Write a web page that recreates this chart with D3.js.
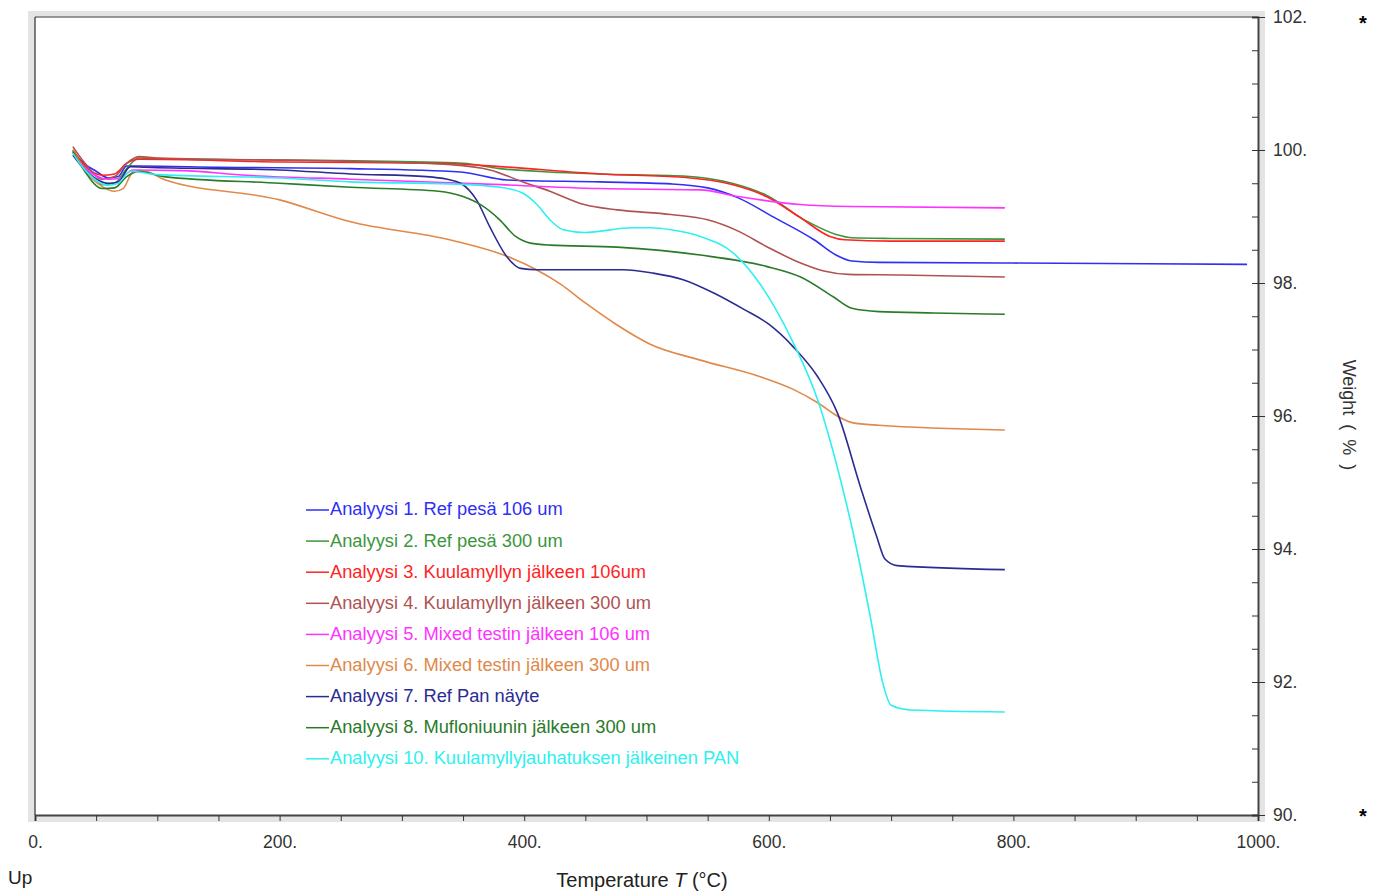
<!DOCTYPE html>
<html>
<head>
<meta charset="utf-8">
<script src="https://cdn.jsdelivr.net/npm/d3@7"></script>
<style>
  body { margin: 0; background: #fff; }
  text { font-family: "Liberation Sans", Arial, sans-serif; }
</style>
</head>
<body>
<svg id="chart" width="1379" height="893"></svg>
<script>
// TGA curves, [temperature °C, weight %]
const s1 = [[31,99.97],[40,99.8],[50,99.68],[60,99.58],[68,99.6],[75,99.76],[85,99.76],[150,99.74],[258,99.72],[348,99.67],[386,99.55],[462,99.52],[520,99.49],[550,99.43],[575,99.28],[604,98.99],[637,98.65],[655,98.42],[668,98.33],[690,98.31],[800,98.3],[991,98.28]]
const s2 = [[31,100.0],[40,99.75],[55,99.48],[65,99.5],[75,99.72],[85,99.88],[100,99.87],[250,99.84],[350,99.8],[380,99.72],[420,99.67],[462,99.64],[530,99.61],[570,99.5],[598,99.32],[631,98.93],[655,98.73],[668,98.68],[700,98.67],[793,98.66]]
const s3 = [[31,100.0],[40,99.78],[55,99.62],[65,99.64],[75,99.8],[85,99.86],[200,99.82],[330,99.8],[380,99.75],[462,99.64],[530,99.59],[570,99.48],[598,99.3],[626,98.98],[650,98.7],[662,98.65],[700,98.63],[793,98.63]]
const s4 = [[31,100.05],[40,99.82],[55,99.56],[65,99.6],[75,99.8],[85,99.9],[100,99.88],[258,99.83],[340,99.78],[372,99.7],[399,99.52],[421,99.38],[449,99.18],[476,99.1],[520,99.03],[550,98.95],[575,98.78],[598,98.55],[626,98.3],[645,98.18],[665,98.13],[708,98.12],[793,98.09]]
const s5 = [[31,99.95],[40,99.75],[60,99.56],[70,99.58],[80,99.7],[120,99.69],[173,99.62],[258,99.56],[364,99.49],[462,99.42],[544,99.4],[575,99.3],[626,99.18],[667,99.15],[793,99.13]]
const s6 = [[31,100.0],[40,99.72],[55,99.45],[65,99.38],[72,99.42],[80,99.66],[90,99.68],[105,99.56],[200,99.25],[258,98.92],[339,98.65],[389,98.38],[410,98.2],[430,97.98],[450,97.7],[475,97.38],[503,97.08],[544,96.84],[593,96.59],[620,96.4],[640,96.2],[656,96.0],[668,95.9],[690,95.86],[793,95.79]]
const s7 = [[31,99.92],[40,99.72],[60,99.5],[68,99.52],[78,99.75],[90,99.74],[200,99.7],[258,99.64],[320,99.6],[337,99.56],[348,99.5],[361,99.25],[372,98.84],[386,98.39],[397,98.22],[410,98.2],[481,98.2],[505,98.15],[530,98.05],[555,97.85],[580,97.6],[600,97.38],[620,97.04],[640,96.59],[656,96.05],[675,94.93],[688,94.2],[695,93.85],[705,93.75],[793,93.69]]
const s8 = [[31,99.98],[40,99.7],[55,99.42],[65,99.43],[75,99.6],[85,99.68],[105,99.6],[200,99.5],[258,99.44],[330,99.38],[350,99.3],[365,99.17],[380,98.95],[393,98.7],[405,98.6],[421,98.57],[476,98.54],[544,98.42],[598,98.25],[626,98.09],[653,97.79],[668,97.62],[690,97.57],[735,97.55],[793,97.53]]
const s10 = [[31,99.95],[40,99.72],[60,99.47],[68,99.5],[78,99.68],[100,99.63],[200,99.58],[258,99.52],[339,99.49],[380,99.44],[399,99.35],[411,99.17],[421,98.95],[432,98.8],[449,98.76],[489,98.83],[503,98.83],[520,98.8],[544,98.7],[571,98.45],[593,97.98],[620,97.1],[640,96.24],[656,95.23],[669,94.24],[683,92.98],[693,92.0],[700,91.65],[716,91.58],[793,91.55]]

const seriesNames = [
  "Analyysi 1. Ref pesä 106 um",
  "Analyysi 2. Ref pesä 300 um",
  "Analyysi 3. Kuulamyllyn jälkeen 106um",
  "Analyysi 4. Kuulamyllyn jälkeen 300 um",
  "Analyysi 5. Mixed testin jälkeen 106 um",
  "Analyysi 6. Mixed testin jälkeen 300 um",
  "Analyysi 7. Ref Pan näyte",
  "Analyysi 8. Mufloniuunin jälkeen 300 um",
  "Analyysi 10. Kuulamyllyjauhatuksen jälkeinen PAN"
]
const seriesData = [s1, s2, s3, s4, s5, s6, s7, s8, s10]
const colors = ["#2f2ff5","#3c963c","#ff2424","#b05252","#ff33ff","#e0894a","#2b2b92","#2a7a2a","#2ef0f0"]

const xMajor = [0, 200, 400, 600, 800, 1000]
const yMajor = [90, 92, 94, 96, 98, 100, 102]

const svg = d3.select('#chart')
const x = d3.scaleLinear().domain([0, 1000]).range([35, 1258])
const y = d3.scaleLinear().domain([90, 102]).range([815, 17])

// grey shadow frame around plot area
svg.append('rect').attr('x', 28).attr('y', 11).attr('width', 1237).attr('height', 811).attr('fill', '#e4e4e4')
svg.append('rect').attr('x', 35).attr('y', 17).attr('width', 1223).attr('height', 798).attr('fill', '#fff')
svg.append('line').attr('x1', 35).attr('x2', 1258).attr('y1', 17).attr('y2', 17).attr('stroke', '#777').attr('stroke-width', 1.5)
svg.append('line').attr('x1', 35).attr('x2', 35).attr('y1', 17).attr('y2', 815).attr('stroke', '#555').attr('stroke-width', 1.5)

// bottom axis: minor ticks every 50, labels every 200
svg.append('g').attr('transform', 'translate(0,815)')
  .call(d3.axisBottom(x).tickValues(d3.range(0, 1001, 50)).tickSize(6).tickFormat(''))
  .call(g => g.select('.domain').attr('stroke', '#444').attr('stroke-width', 2))
  .call(g => g.selectAll('.tick line').attr('stroke', '#333'))
svg.append('g').attr('transform', 'translate(0,815)')
  .call(d3.axisBottom(x).tickValues(xMajor).tickSize(0).tickPadding(21).tickFormat(d => d + '.'))
  .call(g => g.select('.domain').remove())
  .call(g => g.selectAll('text').attr('font-size', 17.5).attr('fill', '#333'))

// right axis: inward minor ticks every 0.5, outward stub + label every 2
svg.append('g').attr('transform', 'translate(1258,0)')
  .call(d3.axisRight(y).tickValues(d3.range(90, 102.01, 0.5)).tickSize(-6).tickFormat(''))
  .call(g => g.select('.domain').attr('stroke', '#444').attr('stroke-width', 2))
  .call(g => g.selectAll('.tick line').attr('stroke', '#333'))
svg.append('g').attr('transform', 'translate(1258,0)')
  .call(d3.axisRight(y).tickValues(yMajor).tickSize(7).tickPadding(8).tickFormat(d => d + '.'))
  .call(g => g.select('.domain').remove())
  .call(g => g.selectAll('.tick line').attr('stroke', '#333'))
  .call(g => g.selectAll('text').attr('font-size', 17.5).attr('fill', '#333'))

// curves
let line = d3.line().x(d => x(d[0])).y(d => y(d[1])).curve(d3.curveMonotoneX)
svg.append('g').selectAll('path')
  .data(seriesData)
  .join('path')
    .attr('d', d => line(d))
    .attr('fill', 'none')
    .attr('stroke', (d, i) => colors[i])
    .attr('stroke-width', 1.6)

// legend
const legend = svg.append('g').attr('transform', 'translate(306,509)')
seriesNames.forEach((name, i) => {
  let row = legend.append('g').attr('transform', `translate(0,${i * 31.1})`)
  row.append('line').attr('x1', 0).attr('x2', 23).attr('y1', 1).attr('y2', 1)
    .attr('stroke', colors[i]).attr('stroke-width', 1.5)
  row.append('text').attr('x', 24).attr('y', 0).attr('dy', '0.35em')
    .attr('font-size', 18.3).attr('fill', colors[i]).text(name)
})

// axis titles
svg.append('text').attr('x', 642).attr('y', 887).attr('text-anchor', 'middle')
  .attr('font-size', 20).attr('fill', '#222')
  .call(t => {
    t.append('tspan').text('Temperature ')
    t.append('tspan').attr('font-style', 'italic').text('T')
    t.append('tspan').text(' (°C)')
  })
svg.append('text').attr('x', 8).attr('y', 884).attr('font-size', 19).attr('fill', '#222').text('Up')
svg.append('text').attr('transform', 'translate(1343,415) rotate(90)').attr('text-anchor', 'middle')
  .attr('font-size', 18).attr('fill', '#333').attr('word-spacing', 4).text('Weight ( % )')
svg.append('text').attr('x', 1363).attr('y', 30).attr('text-anchor', 'middle').attr('font-size', 20).attr('font-weight', 'bold').text('*')
svg.append('text').attr('x', 1363).attr('y', 823).attr('text-anchor', 'middle').attr('font-size', 20).attr('font-weight', 'bold').text('*')
</script>
</body>
</html>
